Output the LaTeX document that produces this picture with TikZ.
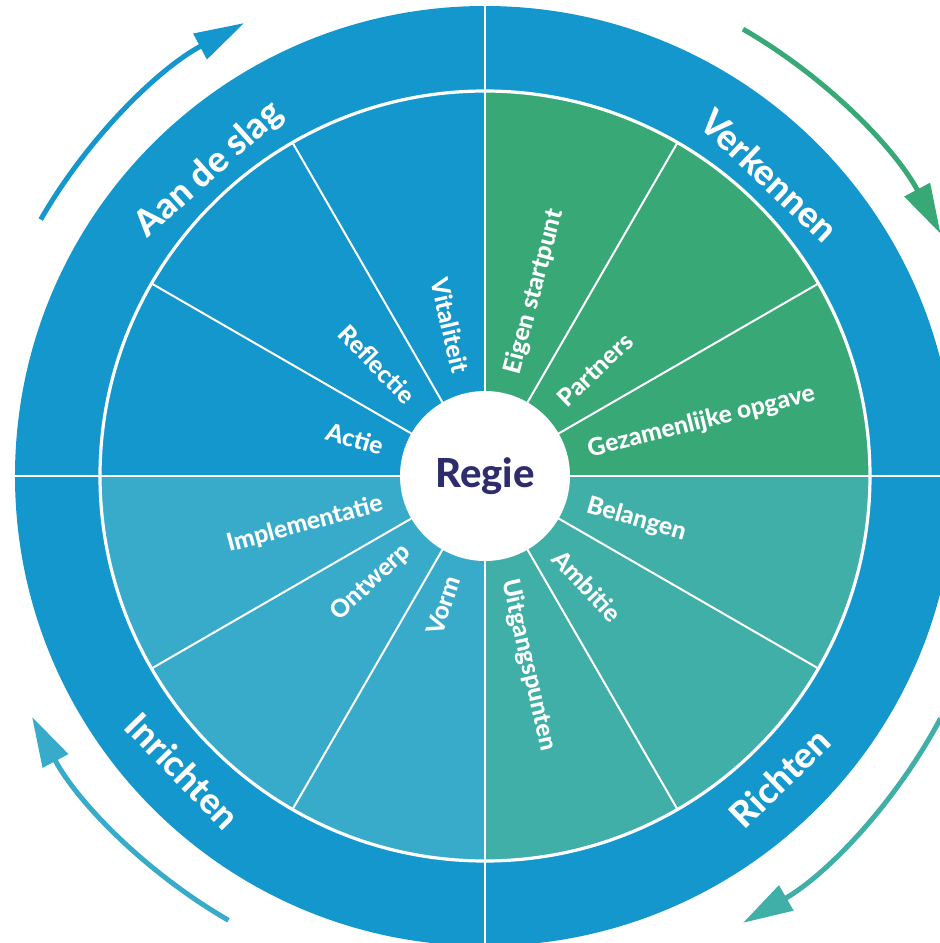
\documentclass[tikz,border=0pt]{standalone}
\usepackage{fontspec}
\setmainfont{Lato}[BoldFont={Lato Heavy}]
\usetikzlibrary{arrows.meta}
\definecolor{ringblue}{HTML}{1497CD}
\definecolor{quartgreen}{HTML}{38A877}
\definecolor{quartteal}{HTML}{40AFA8}
\definecolor{quartlight}{HTML}{38ABCA}
\definecolor{regienavy}{HTML}{2F2C6E}

\begin{document}
\begin{tikzpicture}[x=1pt,y=1pt,
        band label/.style={text=white,inner sep=0pt,font=\bfseries\fontsize{18}{20}\selectfont},
        sector label/.style={text=white,inner sep=0pt,font=\bfseries\fontsize{12.3}{14}\selectfont},
        cycle arrow/.style={line width=2.5pt,-{Triangle[length=25pt,width=14pt]}}]
    \useasboundingbox (-242.5,-233.5) rectangle (227.5,238);
    \clip (-242.5,-233.5) rectangle (227.5,238);

    % ring and quarters
    \fill[ringblue] (0,0) circle (235pt);
    \fill[quartgreen] (0,0) -- (0:192.5pt) arc[start angle=0,end angle=90,radius=192.5pt] -- cycle;
    \fill[quartteal] (0,0) -- (270:192.5pt) arc[start angle=270,end angle=360,radius=192.5pt] -- cycle;
    \fill[quartlight] (0,0) -- (180:192.5pt) arc[start angle=180,end angle=270,radius=192.5pt] -- cycle;
    \draw[white,line width=1.6pt] (0,0) circle (192.5pt);
    \foreach \a in {30,60,120,150,210,240,300,330}
        \draw[white,line width=1pt] (\a:40pt) -- (\a:192.5pt);
    \foreach \a in {0,90,180,270}
        \draw[white,line width=1.2pt] (0,0) -- (\a:240pt);

    \node[circle,fill=white,minimum size=85pt,inner sep=0pt,text=regienavy,
        font=\bfseries\fontsize{20}{22}\selectfont] (regie) at (0,0) {Regie};

    % sector labels
    \foreach \a/\txt/\nm in {103/Vitaliteit/vitaliteit,134/Reflectie/reflectie,164/Actie/actie,
            195/Implementatie/implementatie,223/Ontwerp/ontwerp,252/Vorm/vorm}
        \node[sector label,anchor=east,rotate=\a-180] (\nm) at (\a:53pt) {\txt};
    \foreach \a/\txt/\nm in {75/Eigen startpunt/startpunt,44/Partners/partners,14/Gezamenlijke opgave/opgave,
            -16/Belangen/belangen,-47/Ambitie/ambitie,-77/Uitgangspunten/uitgangspunten}
        \node[sector label,anchor=west,rotate=\a] (\nm) at (\a:53pt) {\txt};

    % phases
    \node[band label,rotate=42] (aandeslag) at (132:206pt) {Aan de slag};
    \node[band label,rotate=-43.4] (verkennen) at (46.6:207pt) {Verkennen};
    \node[band label,rotate=44.3] (richten) at (-45.7:211pt) {Richten};
    \node[band label,rotate=-45.7] (inrichten) at (224.3:211pt) {Inrichten};

    \draw[cycle arrow,ringblue] (150:256.5pt) arc[start angle=150,end angle=118,radius=256.5pt];
    \draw[cycle arrow,quartgreen] (60:258pt) arc[start angle=60,end angle=28,radius=258pt];
    \draw[cycle arrow,quartteal] (-28:258pt) arc[start angle=-28,end angle=-60,radius=258pt];
    \draw[cycle arrow,quartlight] (240:256.5pt) arc[start angle=240,end angle=208,radius=256.5pt];
\end{tikzpicture}
\end{document}
